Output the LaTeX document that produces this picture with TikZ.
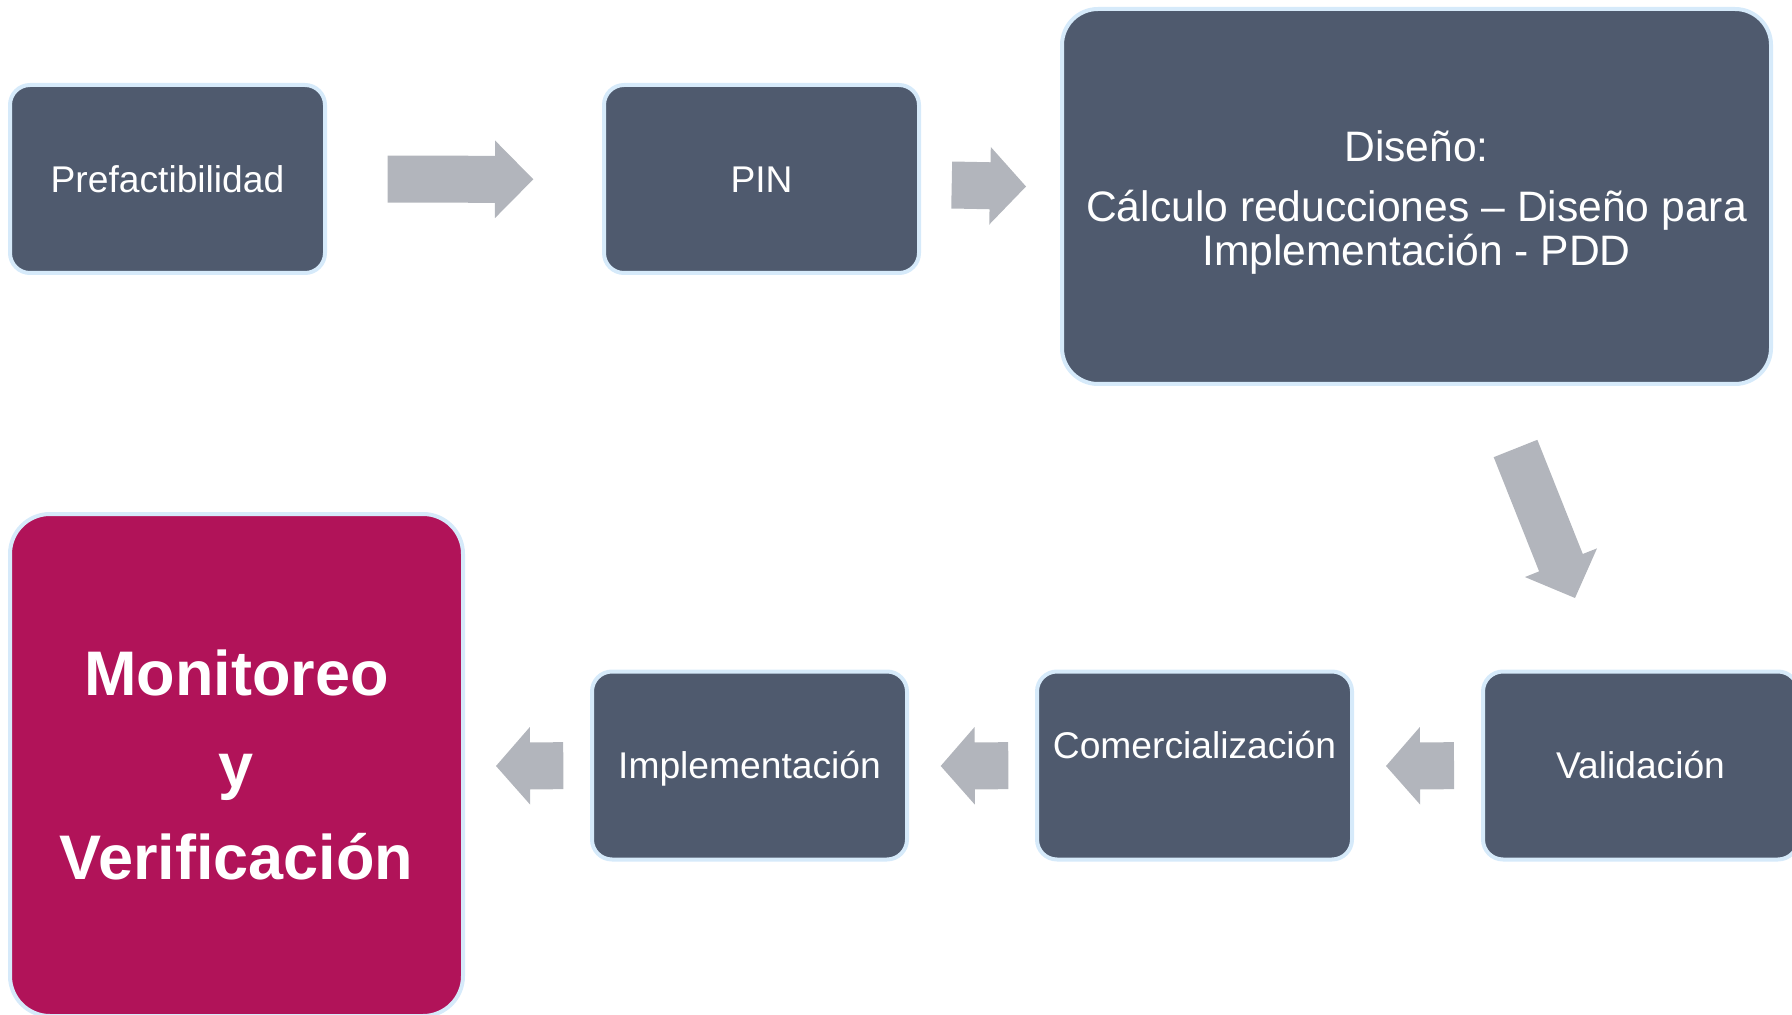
\documentclass[tikz,border=0pt]{standalone}
\usepackage{fontspec}
\setmainfont{Liberation Sans}
\usetikzlibrary{calc}
\definecolor{boxfill}{HTML}{4F5A6E}
\definecolor{boxline}{HTML}{D6EAFA}
\definecolor{magentabox}{HTML}{B11359}
\definecolor{arrowgray}{HTML}{B2B5BC}
% block arrow: tail coordinate, tip coordinate, head length
\newcommand{\blockarrow}[3]{%
  \coordinate (ba-b) at ($(#2)!#3!(#1)$);
  \fill[arrowgray] ($(#1)!11.75pt!90:(#2)$) -- ($(ba-b)!11.75pt!90:(#2)$)
    -- ($(ba-b)!19.4pt!90:(#2)$) -- (#2) -- ($(ba-b)!19.4pt!-90:(#2)$)
    -- ($(ba-b)!11.75pt!-90:(#2)$) -- ($(#1)!11.75pt!-90:(#2)$) -- cycle;
}
\tikzset{
  stagebase/.style={draw=boxline, line width=2pt, fill=boxfill, text=white,
    inner sep=0pt, rounded corners=10pt},
  stage/.style={stagebase, font=\fontsize{18.6pt}{22pt}\selectfont,
    minimum width=157.5pt, minimum height=94pt, text height=13.3pt, text depth=0pt},
}
\begin{document}
\begin{tikzpicture}[x=0.5pt, y=-0.5pt]
\useasboundingbox (0,0) rectangle (1792,1015);
\clip (0,0) rectangle (1792,1015);

% top row
\node[stage] (pref) at (167.5,179) {Prefactibilidad};
\node[stage] (pin) at (761.5,179) {PIN};
\node[stagebase, minimum width=354.5pt, minimum height=187.5pt, rounded corners=18pt,
  align=center, font=\fontsize{21.3pt}{22pt}\selectfont] (diseno) at (1416.5,196.5)
  {\rule{0pt}{21pt}Diseño:\\[8pt]Cálculo reducciones – Diseño para\\Implementación - PDD};

% bottom row
\node[stage] (valid) at (1640.5,765.5) {Validación};
\node[stage, text depth=20.5pt] (comer) at (1194.5,765.5) {Comercialización};
\node[stage] (impl) at (749.5,765.5) {Implementación};
\node[stagebase, fill=magentabox, minimum width=226.5pt, minimum height=251pt,
  rounded corners=20pt, align=center,
  font=\bfseries\fontsize{31.5pt}{46pt}\selectfont] (moni) at (236.5,765)
  {Monitoreo\\y\\Verificación};

% block arrows
\coordinate (a1t) at (387.7,179.2); \coordinate (a1h) at (533.3,179.3);
\blockarrow{a1t}{a1h}{19.15pt}
\coordinate (a2t) at (951.7,185); \coordinate (a2h) at (1026,186.5);
\blockarrow{a2t}{a2h}{18pt}
\coordinate (a3t) at (1515.5,448.5); \coordinate (a3h) at (1575,598);
\blockarrow{a3t}{a3h}{19pt}
\coordinate (a4t) at (1454,765.7); \coordinate (a4h) at (1386,766);
\blockarrow{a4t}{a4h}{17pt}
\coordinate (a5t) at (1008.3,765.7); \coordinate (a5h) at (940.7,766);
\blockarrow{a5t}{a5h}{17pt}
\coordinate (a6t) at (563.3,765.7); \coordinate (a6h) at (496,766);
\blockarrow{a6t}{a6h}{17pt}
\end{tikzpicture}
\end{document}
